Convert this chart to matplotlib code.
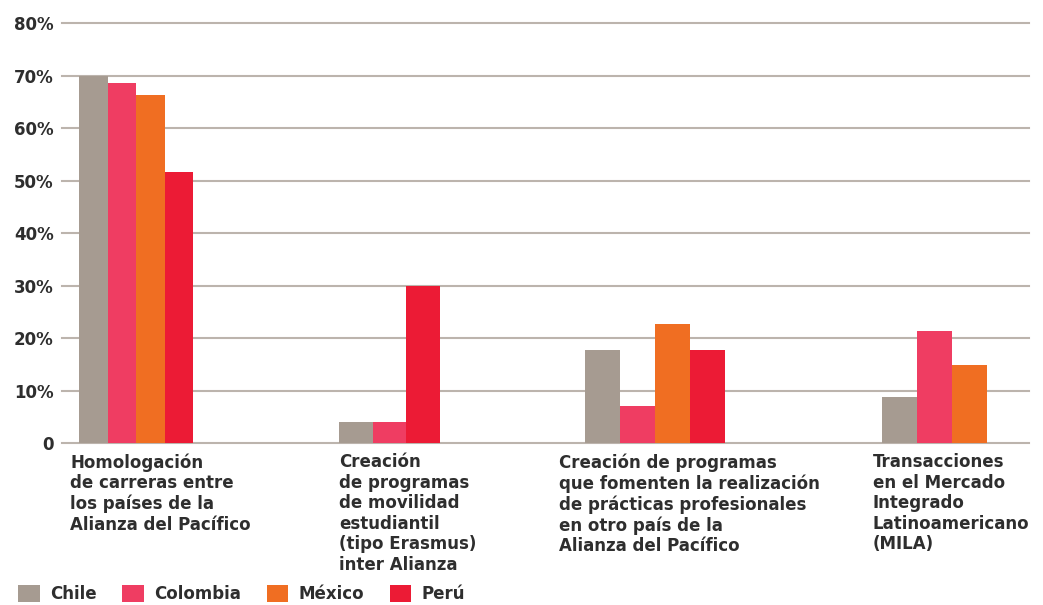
import numpy as np
import matplotlib
matplotlib.use("Agg")
import matplotlib.pyplot as plt
from matplotlib.patches import Patch

# ── Data ──────────────────────────────────────────────────────────────────────
categories = [
    "Homologación\nde carreras entre\nlos países de la\nAlianza del Pacífico",
    "Creación\nde programas\nde movilidad\nestudiantil\n(tipo Erasmus)\ninter Alianza",
    "Creación de programas\nque fomenten la realización\nde prácticas profesionales\nen otro país de la\nAlianza del Pacífico",
    "Transacciones\nen el Mercado\nIntegrado\nLatinoamericano\n(MILA)",
]
series = ["Chile", "Colombia", "México", "Perú"]
chile = [70, 4, 17.8, 8.9]
colombia = [68.6, 4, 7.2, 21.4]
mexico = [66.3, None, 22.7, 14.9]
peru = [51.7, 30, 17.8, None]
y_ticks = [0, 10, 20, 30, 40, 50, 60, 70, 80]
y_tick_labels = ["0", "10%", "20%", "30%", "40%", "50%", "60%", "70%", "80%"]

# ── Style / layout ────────────────────────────────────────────────────────────
colors = ["#a69b91", "#ef3d62", "#f06e22", "#ec1b35"]
text_color = "#2e2e2e"
grid_color = "#bcb4ad"
group_left = [79, 339, 585, 882]        # left edge of each group (pixel-ish units)
bar_width = [28.5, 33.7, 35, 35]
label_left = [70, 339, 559, 873]

plt.rcParams.update({
    "font.family": ["DejaVu Sans"],
    "font.weight": "bold",
    "text.color": text_color,
})

W, H = 1043, 605
fig = plt.figure(figsize=(W / 100, H / 100), dpi=100)
ax = fig.add_axes([62 / W, (H - 443.3) / H, 967 / W, 420 / H])
ax.set_xlim(62, 1029)
ax.set_ylim(0, 80)

for y in y_ticks:
    ax.axhline(y, color=grid_color, linewidth=1.5, zorder=1, clip_on=False)

values = [chile, colombia, mexico, peru]
for g in range(len(categories)):
    x = group_left[g]
    for s in range(len(series)):
        v = values[s][g]
        if v is None:
            continue
        ax.bar(x, v, width=bar_width[g], align="edge", color=colors[s],
               linewidth=0, zorder=2)
        x += bar_width[g]

for sp in ax.spines.values():
    sp.set_visible(False)
ax.set_xticks([])
ax.set_yticks(y_ticks)
ax.set_yticklabels(y_tick_labels, fontsize=12, color=text_color,
                   fontweight="bold")
ax.tick_params(axis="y", length=0, pad=6)

for g, lab in enumerate(categories):
    fig.text(label_left[g] / W, 1 - 453 / H, lab, ha="left", va="top",
             fontsize=12, fontweight="bold", linespacing=1.18,
             color=text_color)

handles = [Patch(facecolor=c, edgecolor="none") for c in colors]
fig.legend(handles, series, loc="center left",
           bbox_to_anchor=(18 / W, 1 - 594 / H), ncol=4, frameon=False,
           fontsize=12, handlelength=1.3, handleheight=1.25,
           handletextpad=0.6, columnspacing=1.55, borderpad=0,
           borderaxespad=0)

fig.savefig("out.png", dpi=100, facecolor="white")
